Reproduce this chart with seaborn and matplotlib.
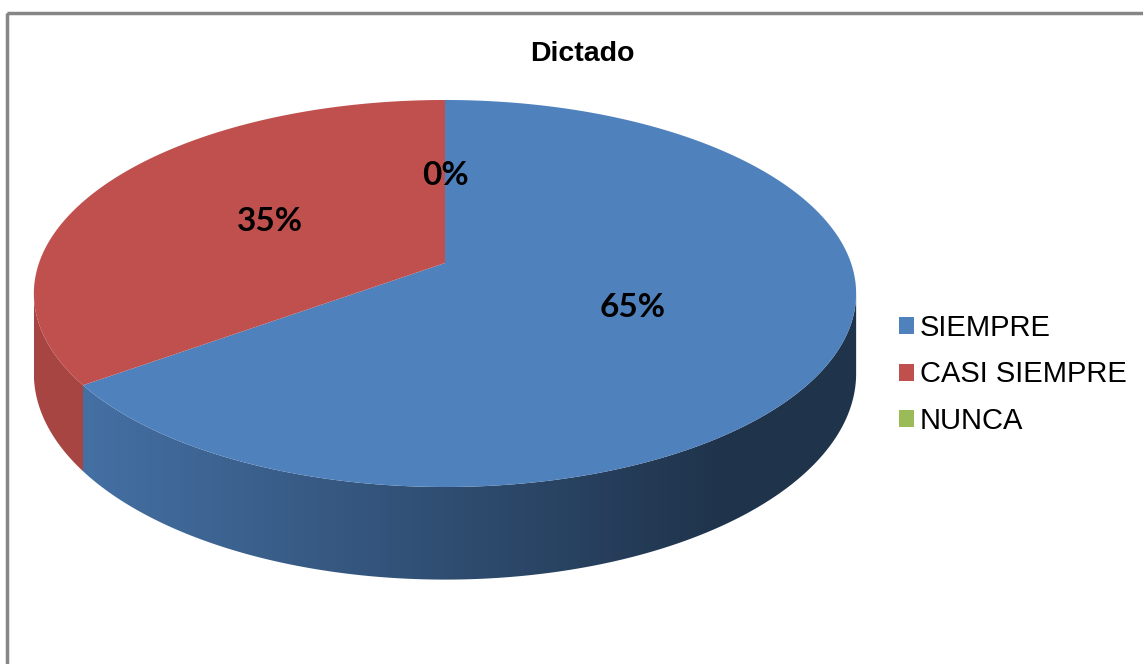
import numpy as np
import matplotlib
matplotlib.use("Agg")
import matplotlib.pyplot as plt
import seaborn as sns
from matplotlib.patches import Polygon, Patch, Rectangle

# data
categories = ["SIEMPRE", "CASI SIEMPRE", "NUNCA"]
values = [65, 35, 0]
pct_labels = ["65%", "35%", "0%"]
colors = ["#4f81bd", "#c0504d", "#9bbb59"]
title = "Dictado"

sns.set_theme(style="white")
plt.rcParams['font.family'] = ['Liberation Sans', 'DejaVu Sans']
plt.rcParams['text.color'] = 'black'

W, H = 1143, 664
fig = plt.figure(figsize=(W / 100, H / 100), dpi=100)
ax = fig.add_axes([0, 0, 1, 1])

#%% perspective of the tilted disk (pixel coordinates)
cx, cy = 445, 263
A, B, k = 406, 188.7, 0.1576
depth = 78


def proj(x, z):
    w = 1 + k * z
    return cx + A * x / w, cy - B * z / w


def shade(x):
    return np.interp(x, [80, 720], [0.87, 0.40])


fracs = np.array(values, dtype=float) / sum(values)
starts = 90 - 360 * np.concatenate([[0], np.cumsum(fracs)[:-1]])
ends = starts - 360 * fracs

#%% side walls (front arc only)
f0 = 180 + np.degrees(np.arcsin(k))
f1 = 360 - np.degrees(np.arcsin(k))
for s, e, c in zip(starts, ends, colors):
    if s == e:
        continue
    for shift in (-360, 0, 360):
        lo, hi = max(e + shift, f0), min(s + shift, f1)
        if hi <= lo:
            continue
        t = np.radians(np.linspace(lo, hi, 200))
        xt, yt = proj(np.cos(t), np.sin(t))
        yb = yt + depth / (1 + k * np.sin(t))
        pts = np.column_stack([np.r_[xt, xt[::-1]], np.r_[yt, yb[::-1]]])
        poly = Polygon(pts, closed=True, facecolor='none', edgecolor='none')
        ax.add_patch(poly)
        xs = np.linspace(xt.min(), xt.max(), 300)
        base = np.array(matplotlib.colors.to_rgb(c))
        rgb = (base[None, :] * shade(xs)[:, None])[None, :, :]
        im = ax.imshow(rgb, extent=(xs.min(), xs.max(), yb.max(), yt.min()),
                       aspect='auto', interpolation='bilinear', zorder=1)
        im.set_clip_path(poly)

#%% top faces
for s, e, c in zip(starts, ends, colors):
    if s == e:
        continue
    t = np.radians(np.linspace(e, s, 300))
    xt, yt = proj(np.cos(t), np.sin(t))
    pts = np.column_stack([np.r_[cx, xt], np.r_[cy, yt]])
    ax.add_patch(Polygon(pts, closed=True, facecolor=c, edgecolor='none', zorder=2))

# percentage labels
for s, e, lab in zip(starts, ends, pct_labels):
    mid = np.radians((s + e) / 2)
    lx, ly = proj(0.5 * np.cos(mid), 0.5 * np.sin(mid))
    ax.text(lx, ly, lab, ha='center', va='center', fontsize=24, color='black',
            fontweight='bold', family=['Lato', 'DejaVu Sans'], zorder=3)

ax.text(582, 54, title, ha='center', va='center', fontsize=20.5,
        fontweight='bold', color='black')

handles = [Patch(facecolor=c, edgecolor='none', label=l) for c, l in zip(colors, categories)]
leg = ax.legend(handles=handles, loc='upper left', bbox_to_anchor=(899 / W, 1 - 314 / H),
                bbox_transform=ax.transAxes, frameon=False, fontsize=21,
                handlelength=0.52, handleheight=0.52, handletextpad=0.2,
                labelspacing=0.63, borderpad=0, borderaxespad=0)
for txt in leg.get_texts():
    txt.set_color('black')

# chart area frame (cut at right and bottom)
ax.add_patch(Rectangle((7, 13), W, H, fill=False, edgecolor='#868686', lw=2.5, zorder=4))

ax.set_xlim(0, W)
ax.set_ylim(H, 0)
ax.axis('off')
fig.savefig("out.png", dpi=100)
